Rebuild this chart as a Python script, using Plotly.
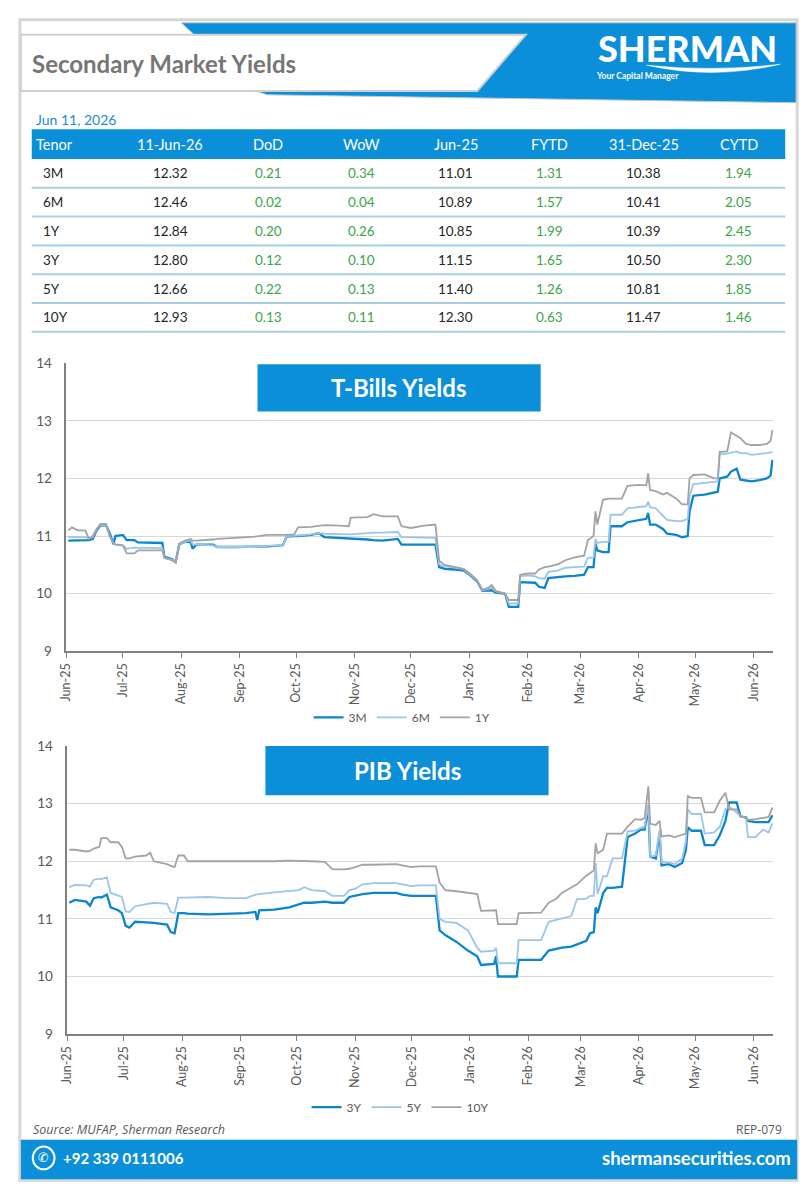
"""
Secondary Market Yields sheet: yield table plus T-Bill and PIB yield charts.
"""

import plotly.graph_objects as go
import pandas as pd

W, H = 809, 1200
FONT = "Lato"
BLUE = "#0a8fd8"
TXT = "#595959"
GREEN = "#3da54a"

# ---- table -------------------------------------------------------------
table_cols = ["Tenor", "11-Jun-26", "DoD", "WoW", "Jun-25", "FYTD", "31-Dec-25", "CYTD"]
tenors = ["3M", "6M", "1Y", "3Y", "5Y", "10Y"]
yld_now = [12.32, 12.46, 12.84, 12.80, 12.66, 12.93]
dod = [0.21, 0.02, 0.20, 0.12, 0.22, 0.13]
wow = [0.34, 0.04, 0.26, 0.10, 0.13, 0.11]
yld_jun25 = [11.01, 10.89, 10.85, 11.15, 11.40, 12.30]
fytd = [1.31, 1.57, 1.99, 1.65, 1.26, 0.63]
yld_dec25 = [10.38, 10.41, 10.39, 10.50, 10.81, 11.47]
cytd = [1.94, 2.05, 2.45, 2.30, 1.85, 1.46]

# ---- chart axis --------------------------------------------------------
month_ticks = ["2025-06-01", "2025-07-01", "2025-08-01", "2025-09-01", "2025-10-01",
               "2025-11-01", "2025-12-01", "2026-01-01", "2026-02-01", "2026-03-01",
               "2026-04-01", "2026-05-01", "2026-06-01"]
month_labels = ["Jun-25", "Jul-25", "Aug-25", "Sep-25", "Oct-25", "Nov-25", "Dec-25",
                "Jan-26", "Feb-26", "Mar-26", "Apr-26", "May-26", "Jun-26"]

# ---- T-Bill yields (days after 1-Jun-25) -------------------------------
tb_day = [
    1, 3, 6, 10, 12, 14, 16, 18, 21, 23,
    25, 26, 30, 32, 36, 38, 45, 51, 52, 56,
    58, 60, 63, 66, 67, 69, 78, 80, 90, 100,
    107, 115, 117, 121, 123, 130, 134, 137, 145, 150,
    151, 160, 163, 168, 176, 178, 183, 187, 190, 196,
    198, 201, 206, 211, 214, 218, 221, 224, 226, 228,
    233, 235, 240, 241, 245, 249, 251, 254, 256, 261,
    265, 270, 275, 277, 280, 281, 282, 285, 288, 289,
    295, 298, 304, 308, 309, 310, 313, 317, 319, 324,
    327, 330, 331, 333, 339, 344, 346, 347, 351, 353,
    356, 358, 361, 364, 368, 372, 374, 375]
tb_3m = [
    10.92, 10.92, 10.92, 10.92, 10.93, 10.95, 11.10, 11.18, 11.19, 11.05,
    10.86, 11.00, 11.02, 10.93, 10.93, 10.89, 10.89, 10.88, 10.64, 10.60,
    10.55, 10.86, 10.90, 10.90, 10.78, 10.85, 10.85, 10.81, 10.81, 10.81,
    10.82, 10.84, 10.99, 11.00, 11.00, 11.02, 11.05, 10.98, 10.97, 10.96,
    10.96, 10.94, 10.93, 10.92, 10.95, 10.85, 10.85, 10.85, 10.85, 10.85,
    10.46, 10.43, 10.42, 10.40, 10.33, 10.22, 10.05, 10.05, 10.06, 10.02,
    10.00, 9.77, 9.77, 10.20, 10.20, 10.19, 10.12, 10.10, 10.27, 10.29,
    10.30, 10.31, 10.33, 10.46, 10.46, 10.86, 10.75, 10.72, 10.72, 11.17,
    11.17, 11.24, 11.27, 11.30, 11.40, 11.20, 11.20, 11.12, 11.04, 11.02,
    10.98, 11.00, 11.43, 11.70, 11.72, 11.75, 11.77, 12.00, 12.03, 12.12,
    12.17, 11.98, 11.97, 11.95, 11.97, 12.00, 12.05, 12.32]
tb_6m = [
    10.98, 10.98, 10.98, 10.98, 10.96, 10.98, 11.12, 11.19, 11.20, 11.00,
    10.88, 10.86, 10.84, 10.78, 10.80, 10.80, 10.80, 10.79, 10.62, 10.59,
    10.55, 10.86, 10.90, 10.93, 10.86, 10.85, 10.84, 10.81, 10.81, 10.81,
    10.83, 10.84, 11.00, 11.00, 11.01, 11.03, 11.05, 11.04, 11.03, 11.03,
    11.03, 11.05, 11.06, 11.06, 11.07, 10.98, 10.98, 10.97, 10.97, 10.97,
    10.51, 10.47, 10.46, 10.42, 10.34, 10.23, 10.06, 10.08, 10.10, 10.04,
    10.00, 9.83, 9.83, 10.30, 10.32, 10.30, 10.27, 10.26, 10.38, 10.40,
    10.45, 10.46, 10.47, 10.62, 10.63, 10.95, 10.88, 10.90, 10.90, 11.37,
    11.37, 11.48, 11.50, 11.52, 11.60, 11.50, 11.48, 11.35, 11.28, 11.26,
    11.26, 11.30, 11.70, 11.90, 11.92, 11.94, 11.95, 12.42, 12.43, 12.45,
    12.47, 12.44, 12.44, 12.41, 12.42, 12.44, 12.45, 12.46]
tb_1y = [
    11.10, 11.15, 11.10, 11.10, 10.95, 11.00, 11.12, 11.21, 11.21, 11.00,
    10.87, 10.85, 10.84, 10.70, 10.70, 10.75, 10.75, 10.75, 10.62, 10.58,
    10.54, 10.87, 10.92, 10.95, 10.92, 10.92, 10.94, 10.95, 10.97, 10.99,
    11.02, 11.01, 11.02, 11.03, 11.15, 11.16, 11.17, 11.19, 11.18, 11.17,
    11.32, 11.33, 11.38, 11.34, 11.34, 11.17, 11.14, 11.17, 11.18, 11.20,
    10.57, 10.50, 10.47, 10.43, 10.36, 10.24, 10.07, 10.10, 10.15, 10.05,
    10.00, 9.89, 9.89, 10.33, 10.35, 10.35, 10.42, 10.46, 10.47, 10.51,
    10.58, 10.63, 10.66, 10.93, 11.00, 11.43, 11.20, 11.63, 11.65, 11.65,
    11.65, 11.87, 11.89, 11.88, 12.09, 11.80, 11.78, 11.72, 11.75, 11.65,
    11.55, 11.55, 12.00, 12.06, 12.07, 12.00, 12.00, 12.46, 12.47, 12.80,
    12.74, 12.70, 12.60, 12.58, 12.58, 12.60, 12.65, 12.84]

# ---- PIB yields (days after 1-Jun-25) ----------------------------------
pib_day = [
    1, 4, 10, 12, 14, 17, 18, 21, 23, 27,
    29, 31, 33, 36, 42, 44, 46, 53, 55, 57,
    59, 62, 64, 75, 85, 95, 100, 101, 102, 110,
    118, 123, 126, 130, 137, 141, 147, 150, 153, 157,
    163, 175, 178, 183, 187, 196, 198, 201, 207, 213,
    218, 220, 227, 228, 229, 239, 240, 252, 256, 260,
    263, 268, 271, 276, 278, 280, 281, 282, 285, 287,
    290, 295, 298, 302, 305, 307, 309, 310, 313, 315,
    316, 320, 323, 327, 329, 330, 332, 337, 339, 344,
    347, 350, 352, 356, 358, 361, 362, 366, 370, 373,
    375]
pib_3y = [
    11.28, 11.33, 11.30, 11.23, 11.36, 11.38, 11.37, 11.42, 11.20, 11.15,
    11.10, 10.88, 10.85, 10.95, 10.94, 10.93, 10.93, 10.90, 10.77, 10.75,
    11.10, 11.10, 11.09, 11.08, 11.09, 11.10, 11.12, 10.98, 11.15, 11.16,
    11.20, 11.25, 11.28, 11.28, 11.30, 11.28, 11.28, 11.38, 11.40, 11.43,
    11.45, 11.45, 11.42, 11.40, 11.40, 11.40, 10.80, 10.72, 10.60, 10.45,
    10.35, 10.20, 10.22, 10.35, 10.00, 10.00, 10.29, 10.29, 10.45, 10.48,
    10.50, 10.52, 10.56, 10.62, 10.75, 10.77, 11.20, 11.10, 11.45, 11.54,
    11.54, 11.56, 12.42, 12.48, 12.55, 12.55, 12.93, 12.08, 12.05, 12.50,
    11.93, 11.95, 11.90, 11.97, 12.20, 12.59, 12.53, 12.53, 12.28, 12.28,
    12.45, 12.70, 13.02, 13.02, 12.78, 12.76, 12.70, 12.68, 12.68, 12.68,
    12.80]
pib_5y = [
    11.55, 11.59, 11.58, 11.56, 11.68, 11.70, 11.69, 11.72, 11.45, 11.40,
    11.38, 11.13, 11.12, 11.22, 11.25, 11.26, 11.28, 11.26, 11.12, 11.10,
    11.37, 11.37, 11.37, 11.38, 11.36, 11.36, 11.42, 11.42, 11.43, 11.46,
    11.48, 11.50, 11.55, 11.50, 11.48, 11.40, 11.40, 11.50, 11.52, 11.60,
    11.62, 11.62, 11.60, 11.57, 11.58, 11.58, 11.00, 10.95, 10.93, 10.80,
    10.50, 10.43, 10.45, 10.50, 10.23, 10.23, 10.63, 10.63, 10.95, 10.98,
    11.00, 11.05, 11.34, 11.35, 11.40, 11.40, 11.97, 11.43, 11.74, 11.74,
    12.05, 12.05, 12.52, 12.53, 12.58, 12.60, 13.00, 12.08, 12.10, 12.55,
    11.98, 11.98, 11.95, 12.05, 12.35, 12.90, 12.82, 12.82, 12.48, 12.50,
    12.60, 12.90, 12.95, 12.85, 12.79, 12.75, 12.42, 12.42, 12.55, 12.50,
    12.66]
pib_10y = [
    12.20, 12.20, 12.17, 12.18, 12.22, 12.25, 12.40, 12.40, 12.33, 12.33,
    12.25, 12.05, 12.05, 12.08, 12.10, 12.15, 12.00, 11.95, 11.92, 11.90,
    12.10, 12.10, 12.00, 12.00, 12.00, 11.99, 11.99, 11.99, 11.99, 12.00,
    12.01, 12.01, 12.01, 12.00, 11.99, 11.86, 11.86, 11.87, 11.90, 11.94,
    11.94, 11.95, 11.93, 11.90, 11.91, 11.91, 11.63, 11.50, 11.48, 11.45,
    11.43, 11.14, 11.15, 11.15, 10.91, 10.91, 11.10, 11.11, 11.28, 11.35,
    11.45, 11.55, 11.60, 11.75, 11.80, 11.84, 12.31, 12.14, 12.20, 12.48,
    12.48, 12.48, 12.60, 12.73, 12.72, 12.75, 13.30, 12.65, 12.63, 12.70,
    12.43, 12.45, 12.42, 12.46, 12.48, 13.13, 13.10, 13.10, 12.85, 12.85,
    13.05, 13.19, 12.90, 12.90, 12.78, 12.75, 12.72, 12.73, 12.75, 12.77,
    12.93]

START = pd.Timestamp("2025-06-01")
tb_dates = START + pd.to_timedelta(tb_day, unit="D")
pib_dates = START + pd.to_timedelta(pib_day, unit="D")


def px(x):
    return x / W


def py(y):
    return 1 - y / H


def poly(pts):
    return "M " + " L ".join(f"{px(x):.5f},{py(y):.5f}" for x, y in pts) + " Z"


fig = go.Figure()

line_styles = [("#0a86cf", 2.3), ("#9cc5e9", 1.8), ("#a3a3a3", 1.8)]
for (name, vals), (col, w) in zip([("3M", tb_3m), ("6M", tb_6m), ("1Y", tb_1y)], line_styles):
    fig.add_trace(go.Scatter(x=tb_dates, y=vals, name=name, mode="lines",
                             line=dict(color=col, width=w), xaxis="x", yaxis="y",
                             legend="legend"))
for (name, vals), (col, w) in zip([("3Y", pib_3y), ("5Y", pib_5y), ("10Y", pib_10y)], line_styles):
    fig.add_trace(go.Scatter(x=pib_dates, y=vals, name=name, mode="lines",
                             line=dict(color=col, width=w), xaxis="x2", yaxis="y2",
                             legend="legend2"))

xaxis_style = dict(
    range=["2025-06-01", "2026-06-11 12:00"], tickmode="array",
    tickvals=month_ticks, ticktext=month_labels, tickangle=-90,
    ticks="outside", ticklen=5, tickcolor="#808080",
    showline=True, linecolor="#808080", linewidth=2, showgrid=False,
    tickfont=dict(family=FONT, size=12.5, color=TXT), fixedrange=True,
)
yaxis_style = dict(
    range=[9, 14], dtick=1, showgrid=True, gridcolor="#d9d9d9", gridwidth=1,
    showline=True, linecolor="#808080", linewidth=1.5, zeroline=False,
    ticks="", ticklabelstandoff=10,
    tickfont=dict(family=FONT, size=13.5, color=TXT), fixedrange=True,
)

legend_style = dict(orientation="h", xanchor="center", yanchor="middle",
                    font=dict(family=FONT, size=12, color=TXT),
                    bgcolor="rgba(0,0,0,0)", itemwidth=30, tracegroupgap=0)

shapes = []
annotations = []

# outer frame
shapes.append(dict(type="rect", xref="paper", yref="paper",
                   x0=px(12), x1=px(797), y0=py(1188), y1=py(12),
                   line=dict(color="#d6d6d6", width=3), fillcolor="rgba(0,0,0,0)",
                   layer="below"))

# header band and title box
shapes.append(dict(type="path", xref="paper", yref="paper",
                   path=poly([(175, 15), (796, 15), (796, 96), (262, 88), (250, 84), (188, 27)]),
                   fillcolor=BLUE, line=dict(color="#c8c8c8", width=1)))
shapes.append(dict(type="path", xref="paper", yref="paper",
                   path=poly([(13, 27), (523, 27), (474, 84), (13, 84)]),
                   fillcolor="white", line=dict(color="#cfcfcf", width=2)))
annotations.append(dict(text="Secondary Market Yields", x=px(22), y=py(56),
                        xanchor="left", yanchor="middle",
                        font=dict(family=FONT, size=24, color="#767676", weight="bold")))
annotations.append(dict(text="SHERMAN", x=px(686), y=py(41), xanchor="center",
                        yanchor="middle",
                        font=dict(family=FONT, size=36, color="white", weight=900)))
shapes.append(dict(type="path", xref="paper", yref="paper",
                   path=(f"M {px(645):.5f},{py(58):.5f} Q {px(712):.5f},{py(73):.5f} "
                         f"{px(780):.5f},{py(57):.5f} Q {px(712):.5f},{py(65):.5f} "
                         f"{px(645):.5f},{py(58):.5f} Z"),
                   fillcolor="white", line=dict(color="white", width=0.5)))
annotations.append(dict(text="Your Capital Manager", x=px(592), y=py(69), xanchor="left",
                        yanchor="middle",
                        font=dict(family=FONT, size=8.5, color="white", weight="bold")))

# date line
annotations.append(dict(text="Jun 11, 2026", x=px(26), y=py(113), xanchor="left",
                        yanchor="middle", font=dict(family=FONT, size=14, color="#1c8ad2")))

# table
col_x = [26, 164, 263, 357, 452, 547, 642, 738]
shapes.append(dict(type="rect", xref="paper", yref="paper",
                   x0=px(24), x1=px(785), y0=py(153), y1=py(123),
                   fillcolor=BLUE, line=dict(width=0)))
for i, label in enumerate(table_cols):
    annotations.append(dict(text=label, x=px(col_x[i]), y=py(138),
                            xanchor="left" if i == 0 else "center", yanchor="middle",
                            font=dict(family=FONT, size=14.5, color="white")))

columns = [yld_now, dod, wow, yld_jun25, fytd, yld_dec25, cytd]
green_cols = {1, 2, 4, 6}
row_top = 153
row_h = 29.2
for r, tenor in enumerate(tenors):
    yc = row_top + row_h * (r + 0.5)
    annotations.append(dict(text=tenor, x=px(33), y=py(yc), xanchor="left",
                            yanchor="middle",
                            font=dict(family=FONT, size=13.5, color="#262626")))
    for c, vals in enumerate(columns):
        annotations.append(dict(text=f"{vals[r]:.2f}", x=px(col_x[c + 1]), y=py(yc),
                                xanchor="center", yanchor="middle",
                                font=dict(family=FONT, size=13.5,
                                          color=GREEN if c in green_cols else "#262626")))
    yl = row_top + row_h * (r + 1)
    shapes.append(dict(type="line", xref="paper", yref="paper",
                       x0=px(24), x1=px(785), y0=py(yl), y1=py(yl),
                       line=dict(color="#a8cfe3", width=2)))

# chart title boxes
for (x0, y0, x1, y1), title in [((252, 361, 538, 409), "T-Bills Yields"),
                                 ((260, 748, 546, 798), "PIB Yields")]:
    shapes.append(dict(type="rect", xref="paper", yref="paper",
                       x0=px(x0), x1=px(x1), y0=py(y1), y1=py(y0),
                       fillcolor=BLUE, line=dict(width=0)))
    annotations.append(dict(text=title, x=px((x0 + x1) / 2), y=py((y0 + y1) / 2),
                            xanchor="center", yanchor="middle",
                            font=dict(family=FONT, size=24, color="white", weight="bold")))

# footer
annotations.append(dict(text="Source: MUFAP, Sherman Research", x=px(23), y=py(1137),
                        xanchor="left", yanchor="middle",
                        font=dict(family="Open Sans", size=12.5, color=TXT, style="italic")))
annotations.append(dict(text="REP-079", x=px(784), y=py(1137), xanchor="right",
                        yanchor="middle", font=dict(family="Open Sans", size=12, color=TXT)))
shapes.append(dict(type="rect", xref="paper", yref="paper",
                   x0=px(13), x1=px(797), y0=py(1187), y1=py(1147),
                   fillcolor=BLUE, line=dict(width=0)))
shapes.append(dict(type="circle", xref="paper", yref="paper",
                   x0=px(25), x1=px(47), y0=py(1177), y1=py(1154),
                   fillcolor="rgba(0,0,0,0)", line=dict(color="white", width=2)))
annotations.append(dict(text="✆", x=px(36), y=py(1165.5), xanchor="center",
                        yanchor="middle",
                        font=dict(family="DejaVu Sans", size=13, color="white")))
annotations.append(dict(text="+92 339 0111006", x=px(54), y=py(1166), xanchor="left",
                        yanchor="middle",
                        font=dict(family=FONT, size=15, color="white", weight="bold")))
annotations.append(dict(text="shermansecurities.com", x=px(793), y=py(1166),
                        xanchor="right", yanchor="middle",
                        font=dict(family=FONT, size=18.5, color="white", weight="bold")))

for a in annotations:
    a.update(xref="paper", yref="paper", showarrow=False)

fig.update_layout(
    autosize=True,
    margin=dict(l=0, r=0, t=0, b=0),
    paper_bgcolor="white", plot_bgcolor="white",
    xaxis=dict(domain=[px(59), px(773)], anchor="y", **xaxis_style),
    yaxis=dict(domain=[py(652), py(360)], anchor="x", **yaxis_style),
    xaxis2=dict(domain=[px(60), px(773)], anchor="y2", **xaxis_style),
    yaxis2=dict(domain=[py(1040), py(748)], anchor="x2", **yaxis_style),
    legend=dict(x=px(398), y=py(719), **legend_style),
    legend2=dict(x=px(396), y=py(1114), **legend_style),
    shapes=shapes,
    annotations=annotations,
    hovermode=False,
)

# let the figure fill the whole window, no page margin, no mode bar
fig.write_html("out.html",
               default_width="100vw", default_height="100vh",
               config={"displayModeBar": False, "responsive": True},
               post_script="document.body.style.margin='0';"
                           "document.body.style.overflow='hidden';")
